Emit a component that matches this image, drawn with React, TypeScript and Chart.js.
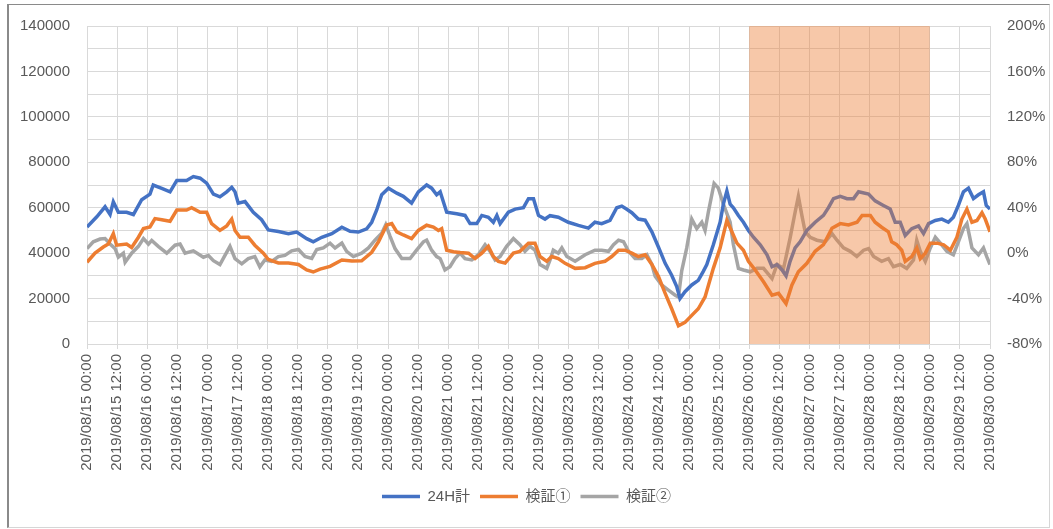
import React, { useEffect, useRef } from "react";
import { Chart, registerables } from "chart.js";

Chart.register(...registerables);

// [hour offset from 2019/08/15 00:00, value]
const series24H: [number, number][] = [
  [0,51500],[3.9,56000],[7.2,60400],[9.2,57000],[10.5,62600],[12.5,58000],[15.8,58000],[18.5,57000],[21.8,63500],[25.1,66000],[26.4,70000],[29.8,68500],[33.1,67000],[35.8,72000],[39.7,72000],[42.4,73700],[45.1,73000],[47.7,70800],[50.4,66000],[53,64800],[55.7,67000],[57.7,69000],[59,67000],[60.3,62000],[63,62700],[66.3,58000],[69.6,54700],[72.3,50200],[76.3,49500],[80.3,48600],[83.6,49300],[87.6,46400],[90.2,45000],[93.6,47000],[97.6,48600],[101.6,51400],[104.9,49600],[108.2,49300],[111.5,50700],[113.5,53600],[115.5,59000],[117.5,65700],[120.2,68600],[123.5,66400],[126.1,65000],[129.4,62000],[132.1,67000],[135.4,70000],[137.4,68600],[139.4,65700],[140.8,67000],[143.4,58000],[147.4,57300],[150.7,56600],[152.7,53000],[155.4,53000],[157.4,56600],[160,55800],[162,53600],[163.4,56600],[164.7,53000],[168,58000],[170.7,59400],[174,60000],[176,64000],[178,64000],[180,56600],[182.6,55000],[184.6,56500],[187.9,55800],[191.9,53600],[195.9,52200],[199.9,51000],[202.5,53600],[205.2,53000],[208.5,54400],[211.2,60000],[213.2,60700],[215.2,59300],[217.2,57800],[219.8,55000],[222.5,54500],[225.2,49400],[227.8,42700],[230.5,35500],[233.1,30300],[235.1,25300],[236.4,20000],[238.4,23000],[241.1,26000],[243.7,28000],[245.7,32000],[247.1,35000],[249.7,43700],[252.4,53600],[253.7,61600],[255.1,67400],[256.4,61600],[257.7,60000],[259.7,56600],[261.7,53600],[263.7,50000],[265.7,47000],[268.4,43700],[271.1,39300],[273.1,34000],[275.1,35000],[277.1,32600],[278.7,30000],[280.3,36400],[282.3,42300],[284.3,45000],[287,50000],[290.3,53600],[293.6,56600],[295.6,60000],[297.6,64000],[300.3,65000],[303,64000],[305.6,64000],[307.6,67000],[311.6,66000],[314.2,63000],[317.5,61000],[320.2,59400],[322.2,53600],[324.2,53600],[326.2,47800],[328.8,50800],[331.5,52000],[333.5,48600],[335.5,53000],[338.2,54400],[340.8,55000],[343.4,53600],[345.4,55800],[347.4,61000],[349.4,67000],[351.4,68600],[353.4,64000],[355.4,65700],[357.4,67000],[358.5,61000],[360,59400]
];

const seriesCheck1: [number, number][] = [
  [0,36000],[3.2,40000],[6.5,42700],[8.5,44000],[10.5,48600],[11.8,43500],[15.8,44000],[17.8,42500],[20.5,47000],[22.5,50800],[25.1,51500],[27.1,55200],[29.8,54700],[33.1,54000],[35.8,59000],[39.7,59000],[41.7,60000],[45.1,58000],[47.7,58000],[49.7,53000],[53,50000],[55.7,52000],[57.7,55000],[59,50000],[61,47000],[64.3,47000],[66.9,43500],[70.3,40000],[72.3,37200],[76.3,35700],[80.3,35700],[84.3,35000],[87.6,32600],[90.2,31700],[92.9,33000],[96.9,34200],[101.6,37000],[105.6,36500],[109.5,36600],[113.5,40400],[116.2,45000],[119.5,52400],[121.5,53000],[123.5,49400],[126.1,48000],[129.4,46400],[132.1,50000],[135.4,52300],[138.1,51500],[140.1,50000],[141.4,50800],[143.4,41300],[146.1,40600],[148.7,40300],[152.1,40000],[154.7,37600],[157.4,40000],[160,43000],[162,38500],[164,36400],[166.7,35600],[170,40000],[172.6,40800],[176,44400],[178.6,44400],[180.6,38500],[183.3,36400],[185.3,38500],[187.9,37600],[190.6,35500],[194.6,33300],[198.6,33600],[202.5,35500],[206.5,36400],[209.2,38500],[211.9,41300],[214.5,41300],[217.2,40000],[219.8,38500],[222.5,39300],[225.2,35000],[227.8,29800],[230.5,22300],[233.1,15500],[235.8,8000],[238.4,9500],[241.1,12600],[243.7,15500],[246.4,20700],[249.7,33300],[252.4,42300],[255.1,54400],[257.1,49400],[259.1,44400],[261.7,41300],[263.7,36400],[266.4,32600],[269.7,27400],[273.1,21500],[275.7,22300],[278.7,17800],[281,25900],[283.6,31800],[287,35500],[290.3,40800],[293.6,43700],[297,51000],[300.3,53000],[303.6,52400],[307,53600],[309,56600],[312.3,56600],[314.2,53600],[316.8,51400],[319.5,49400],[320.8,45000],[322.8,43700],[324.8,41300],[326.2,36400],[328.8,38500],[330.8,42300],[332.2,37600],[334.2,40000],[336.2,44400],[338.9,44400],[341.5,43700],[344.2,41300],[346.8,47000],[348.8,55000],[350.8,59400],[352.8,53600],[354.8,54400],[356.8,57800],[358.1,55000],[360,49400]
];

const seriesCheck2: [number, number][] = [
  [0,42000],[2.5,45000],[5.2,46200],[7.2,46400],[9.2,44000],[11.2,42000],[12.5,38200],[14.5,40000],[15.2,36000],[17.8,40000],[20.5,43000],[22.5,46400],[24.5,44000],[25.8,45600],[28.4,43000],[31.8,40000],[35.1,43500],[37.1,44000],[39.1,40000],[42.4,41000],[46.4,38200],[48.4,39000],[50.4,36700],[53,35000],[55,39000],[57,43000],[59,37600],[61.7,35300],[64.3,37600],[66.9,38500],[68.9,34000],[70.9,37000],[73.6,36400],[76.3,38500],[78.9,39000],[81.6,41000],[84.3,41600],[86.9,38500],[89.6,37700],[91.6,41600],[94.2,42300],[96.9,44400],[98.9,42300],[101.6,44400],[103.5,40800],[106.2,38500],[109.5,40000],[112.2,42300],[114.8,45700],[117.5,48800],[119.1,52500],[120.8,47500],[122.8,42000],[125.5,37600],[128.8,37600],[131.4,41300],[134.1,45000],[135.4,45700],[137.4,41300],[139.4,38500],[140.8,37600],[142.7,32600],[144.7,34000],[146.7,37600],[148.7,40000],[150.7,37600],[153.4,37000],[156,39300],[158.7,43700],[160.7,40800],[162.7,37000],[164.7,38500],[167.3,43000],[170,46400],[172.6,43700],[174.6,40800],[176.6,43000],[178.6,41300],[180.6,35000],[183.3,33300],[184.6,37000],[185.9,41300],[187.9,40000],[189.3,42300],[191.3,38500],[194.6,36400],[198.6,39300],[202.5,41300],[205.2,41300],[207.9,40800],[209.9,43700],[211.9,45700],[213.9,45000],[215.9,40800],[218.5,37600],[221.2,37600],[223.2,39300],[225.2,35000],[226.5,29800],[229.1,26000],[231.8,23700],[234.5,21500],[235.8,20700],[237.1,32200],[239.1,42300],[241.1,55000],[243.1,50800],[245.1,53600],[246.4,50000],[247.7,58000],[250,70700],[251.7,68600],[253.7,61600],[256.4,53600],[257.7,43700],[259.7,33300],[261.7,32600],[264.4,31800],[267.1,33300],[269.7,33300],[273.1,28800],[275.1,35000],[277.7,33300],[280.3,46600],[282.3,58000],[283.6,65000],[285,56600],[286.3,49400],[288.3,47000],[291,45700],[294.3,45000],[297,48600],[299,45700],[301.6,42300],[304.3,40800],[306.9,38500],[309.6,41300],[311.6,42000],[313.6,38500],[316.8,36400],[319.5,37600],[321.5,34000],[324.2,35000],[326.8,33300],[329.5,37000],[330.8,45700],[332.2,40800],[334.2,36400],[336.2,42300],[338.2,47000],[340.2,44400],[342.8,40800],[345.4,39300],[347.4,45000],[349.4,50800],[350.8,53000],[352.8,42300],[355.4,39300],[357.4,42300],[358.7,38500],[360,35000]
];

const seriesNames = ["24H計", "検証①", "検証②"];
const seriesColors = ["#4472C4", "#ED7D31", "#A5A5A5"];

const startYear = 2019;
const startMonth = 8;
const startDay = 15;
const totalHours = 360;
const tickStepHours = 12;

const leftMin = 0;
const leftMax = 140000;
const leftGridStep = 10000;
const leftLabelStep = 20000;

const rightMin = -80;
const rightMax = 200;
const rightStep = 40;

// highlighted period (hours from start): 2019/08/26 00:00 – 2019/08/29 00:00
const shadeStartHour = 264;
const shadeEndHour = 336;

const pad2 = (n: number) => (n < 10 ? "0" + n : String(n));
const formatTick = (h: number) => {
  const day = startDay + Math.floor(h / 24);
  const hour = h % 24;
  return `${startYear}/${pad2(startMonth)}/${pad2(day)} ${pad2(hour)}:00`;
};

const FONT = "'Liberation Sans', 'Noto Sans CJK JP', Arial, sans-serif";
const TEXT = "#595959";
const GRID = "#d9d9d9";

export default function App() {
  const ref = useRef<HTMLCanvasElement | null>(null);

  useEffect(() => {
    if (!ref.current) return;
    Chart.defaults.font.family = FONT;
    Chart.defaults.font.size = 15;
    Chart.defaults.color = TEXT;

    const shadePlugin = {
      id: "shade",
      afterDatasetsDraw(chart: any) {
        const { ctx, chartArea, scales } = chart;
        const x0 = scales.x.getPixelForValue(shadeStartHour);
        const x1 = scales.x.getPixelForValue(shadeEndHour);
        ctx.save();
        ctx.fillStyle = "rgba(237,125,49,0.42)";
        ctx.fillRect(x0, chartArea.top, x1 - x0, chartArea.bottom - chartArea.top);
        ctx.restore();
      },
    };

    const all = [series24H, seriesCheck1, seriesCheck2];
    const chart = new Chart(ref.current, {
      type: "line",
      data: {
        datasets: all.map((s, i) => ({
          label: seriesNames[i],
          data: s.map(([x, y]) => ({ x, y })),
          borderColor: seriesColors[i],
          backgroundColor: seriesColors[i],
          borderWidth: 3.5,
          pointRadius: 0,
          pointStyle: "line",
          tension: 0,
          yAxisID: "y",
        })),
      },
      options: {
        animation: false,
        responsive: false,
        parsing: true,
        layout: { padding: { top: 26, left: 0, right: 0, bottom: 15 } },
        plugins: {
          legend: {
            position: "bottom",
            labels: {
              usePointStyle: true,
              pointStyle: "line",
              pointStyleWidth: 38,
              padding: 10,
              color: TEXT,
              font: { size: 15, family: FONT },
            },
          },
          tooltip: { enabled: false },
        },
        scales: {
          x: {
            type: "linear",
            min: 0,
            max: totalHours,
            afterFit: (s: any) => {
              s.height = 135;
            },
            ticks: {
              stepSize: tickStepHours,
              autoSkip: false,
              maxRotation: 90,
              minRotation: 90,
              padding: 5,
              color: TEXT,
              callback: (v: any) => formatTick(Number(v)),
            },
            grid: { color: GRID, tickLength: 5, drawTicks: true },
            border: { color: GRID },
          },
          y: {
            position: "left",
            min: leftMin,
            max: leftMax,
            afterFit: (s: any) => {
              s.width = 87;
            },
            ticks: {
              stepSize: leftGridStep,
              padding: 17,
              color: TEXT,
              callback: (v: any) => (Number(v) % leftLabelStep === 0 ? String(v) : ""),
            },
            grid: { color: GRID, drawTicks: false },
            border: { display: false },
          },
          y2: {
            position: "right",
            min: rightMin,
            max: rightMax,
            afterFit: (s: any) => {
              s.width = 63;
            },
            ticks: {
              stepSize: rightStep,
              padding: 17,
              color: TEXT,
              callback: (v: any) => `${v}%`,
            },
            grid: { drawOnChartArea: false, drawTicks: false },
            border: { display: false },
          },
        },
      },
      plugins: [shadePlugin],
    } as any);
    return () => chart.destroy();
  }, []);

  return (
    <div style={{ position: "fixed", left: 0, top: 0, width: 1053, height: 529, background: "#fff" }}>
      <canvas ref={ref} width={1053} height={529} style={{ position: "absolute", left: 0, top: 0, width: 1053, height: 529 }} />
      <div
        style={{
          position: "absolute",
          left: 7,
          top: 4,
          width: 1043,
          height: 524,
          boxSizing: "border-box",
          borderLeft: "2px solid #8a8a8a",
          borderTop: "1px solid #8a8a8a",
          borderRight: "1px solid #d6d6d6",
          borderBottom: "1px solid #d6d6d6",
          pointerEvents: "none",
        }}
      />
    </div>
  );
}
